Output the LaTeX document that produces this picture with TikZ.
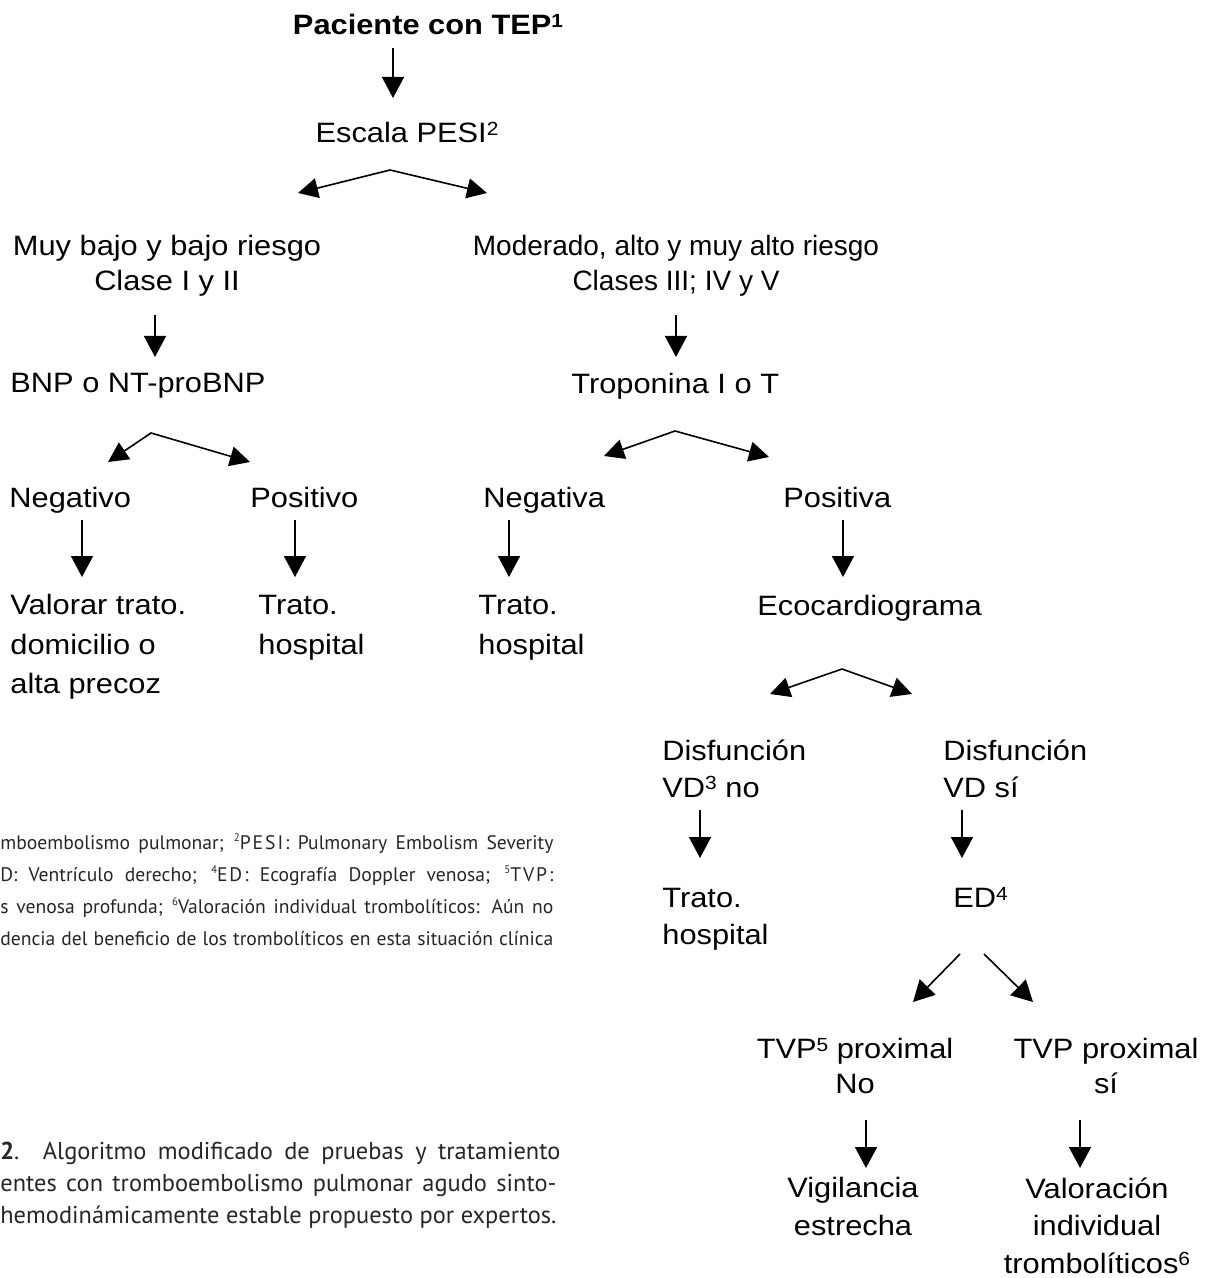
\documentclass[tikz,border=0pt]{standalone}
\usepackage{fontspec}
\setmainfont{Liberation Sans}[FakeStretch=1.1]
\newfontfamily\narrowfont{Liberation Sans}
\newfontfamily\notefont{PT Sans}
\newfontfamily\captfont{PT Sans}
\usetikzlibrary{arrows.meta}

\newcommand{\hsup}[1]{\raisebox{3.6pt}{\fontsize{9.5}{9.5}\selectfont #1}}
\newcommand{\nsup}[1]{\raisebox{0.8ex}{\fontsize{5.5}{5.5}\selectfont #1}}
\newcommand{\lspaced}[1]{{\addfontfeatures{LetterSpace=10}#1}}

\begin{document}
\begin{tikzpicture}
[
  x=0.5pt, y=-0.5pt,
  every node/.style={inner sep=0pt, font=\fontsize{14}{19}\selectfont},
  txt/.style={align=left, anchor=north west},
  ctr/.style={align=center, anchor=north},
  tip/.style={-{Triangle[width=11pt,length=10.5pt]}, line width=0.8pt},
  fork/.style={{Triangle[width=10pt,length=10pt]}-{Triangle[width=10pt,length=10pt]}, line width=0.8pt},
  note/.style={anchor=base west, text=black!85, font=\notefont\fontsize{9.8}{16}\selectfont},
  capt/.style={anchor=base west, text=black!85, font=\captfont\fontsize{12.2}{16}\selectfont}
]
 \useasboundingbox (0,0) rectangle (1209,1278);

 \node[ctr, font=\bfseries\fontsize{14}{19}\selectfont] (tep) at (428,14) {Paciente con TEP\hsup{1}};
 \node[ctr] (pesi) at (407,122) {Escala PESI\hsup{2}};

 \node[ctr, font=\fontsize{14}{17.5}\selectfont] (bajo) at (167,235) {Muy bajo y bajo riesgo\\Clase I y II};
 \node[ctr, font=\narrowfont\fontsize{14}{17.5}\selectfont] (alto) at (676,235) {Moderado, alto y muy alto riesgo\\Clases III; IV y V};

 \node[txt] (bnp) at (10,373) {BNP o NT-proBNP};
 \node[txt] (trop) at (571,373) {Troponina I o T};

 \node[txt] (neg) at (9,487) {Negativo};
 \node[txt] (pos) at (250,487) {Positivo};
 \node[txt] (nega) at (483,487) {Negativa};
 \node[txt] (posa) at (783,487) {Positiva};

 \node[txt, font=\fontsize{14}{19.75}\selectfont] (domic) at (10,594) {Valorar trato.\\domicilio o\\alta precoz};
 \node[txt, font=\fontsize{14}{19.75}\selectfont] (hosp1) at (258,595) {Trato.\\hospital};
 \node[txt, font=\fontsize{14}{19.75}\selectfont] (hosp2) at (478,595) {Trato.\\hospital};
 \node[txt] (eco) at (757,595) {Ecocardiograma};

 \node[txt, font=\fontsize{14}{18.5}\selectfont] (vdno) at (662,739) {Disfunción\\VD\hsup{3} no};
 \node[txt, font=\fontsize{14}{18.5}\selectfont] (vdsi) at (943,739) {Disfunción\\VD sí};
 \node[txt, font=\fontsize{14}{18.5}\selectfont] (hosp3) at (662,888) {Trato.\\hospital};
 \node[txt] (ed) at (953,887) {ED\hsup{4}};

 \node[ctr, font=\fontsize{14}{17.5}\selectfont] (tvpno) at (855,1038) {TVP\hsup{5} proximal\\No};
 \node[ctr, font=\fontsize{14}{17.5}\selectfont] (tvpsi) at (1106,1038) {TVP proximal\\sí};
 \node[ctr, font=\fontsize{14}{18.75}\selectfont] (vigil) at (853,1177) {Vigilancia\\estrecha};
 \node[ctr, font=\fontsize{14}{18.75}\selectfont] (fibr) at (1097,1177) {Valoración\\individual\\trombolíticos\hsup{6}};

 % straight arrows
 \foreach \n/\x/\ya/\yb in {0/393/48/98, 1/155/315/357, 2/676/315/357, 3/82/520/577,
   4/295/520/577, 5/509/520/577, 6/843/520/577, 7/700/810/858, 8/962/810/858,
   9/866/1120/1168, 10/1080/1120/1168}
 {
   \coordinate (from\n) at (\x,\ya);
   \coordinate (to\n) at (\x,\yb);
   \draw[tip] (from\n) -- (to\n);
 }

 % forks
 \coordinate (fk1) at (390,170); \coordinate (fk1l) at (298,193); \coordinate (fk1r) at (487,193);
 \coordinate (fk2) at (151,433); \coordinate (fk2l) at (108,462); \coordinate (fk2r) at (250,462);
 \coordinate (fk3) at (675,431); \coordinate (fk3l) at (604,456); \coordinate (fk3r) at (769,457);
 \coordinate (fk4) at (842,669); \coordinate (fk4l) at (770,694); \coordinate (fk4r) at (912,694);
 \draw[fork] (fk1l) -- (fk1) -- (fk1r);
 \draw[fork] (fk2l) -- (fk2) -- (fk2r);
 \draw[fork] (fk3l) -- (fk3) -- (fk3r);
 \draw[fork] (fk4l) -- (fk4) -- (fk4r);

 \coordinate (dl) at (960,954); \coordinate (dlt) at (913,1002);
 \coordinate (dr) at (984,954); \coordinate (drt) at (1033,1002);
 \draw[tip] (dl) -- (dlt);
 \draw[tip] (dr) -- (drt);

 % notes and caption
 \node[note] (fn1) at (0,849) {\makebox[276.5pt][s]{mboembolismo pulmonar; \nsup{2}\lspaced{PESI:} Pulmonary Embolism Severity}};
 \node[note] (fn2) at (0,881) {\makebox[276.5pt][s]{D: Ventrículo derecho; \nsup{4}\lspaced{ED:} Ecografía Doppler venosa; \nsup{5}\lspaced{TVP:}}};
 \node[note] (fn3) at (0,913) {\makebox[276.5pt][s]{s venosa profunda; \nsup{6}Valoración individual trombolíticos: Aún no}};
 \node[note] (fn4) at (0,945) {\makebox[276.5pt][s]{dencia del beneficio de los trombolíticos en esta situación clínica}};

 \node[capt] (cap1) at (0,1159) {\makebox[280pt][s]{\textbf{2}. Algoritmo modificado de pruebas y tratamiento}};
 \node[capt] (cap2) at (0,1191) {\makebox[278pt][s]{entes con tromboembolismo pulmonar agudo sinto-}};
 \node[capt] (cap3) at (0,1223) {\makebox[278pt][s]{hemodinámicamente estable propuesto por expertos.}};
\end{tikzpicture}
\end{document}
